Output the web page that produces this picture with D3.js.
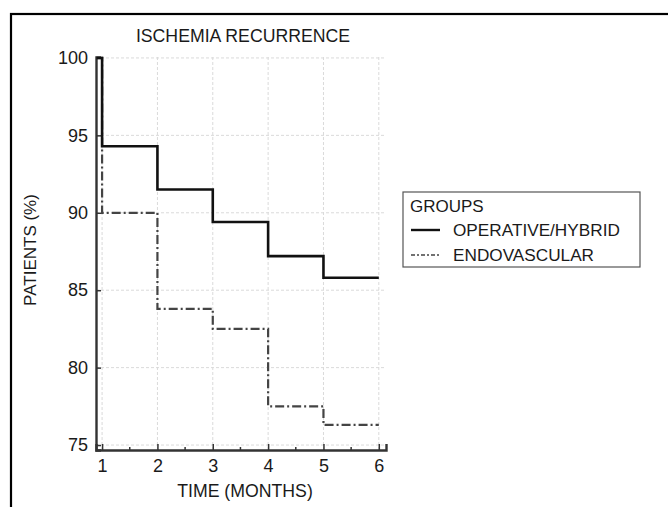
<!DOCTYPE html>
<html>
<head>
<meta charset="utf-8">
<script src="https://cdn.jsdelivr.net/npm/d3@7"></script>
<style>
	body{margin:0;background:#fff;}
	svg text{font-family:"Liberation Sans",Arial,sans-serif;fill:#1a1a1a;}
</style>
</head>
<body>
<svg id="chart" width="668" height="507"></svg>
<script>
// datos
var months = [0.9, 1, 2, 3, 4, 5, 6];
var operative = [100, 94.3, 91.5, 89.4, 87.2, 85.8, 85.8];
var endovascular = [100, 90.0, 83.8, 82.5, 77.5, 76.3, 76.3];
var xTicks = [1, 2, 3, 4, 5, 6];
var xMinor = [1.5, 2.5, 3.5, 4.5, 5.5];
var yTicks = [75, 80, 85, 90, 95, 100];
var groups = ["OPERATIVE/HYBRID", "ENDOVASCULAR"];

function escala(dom,rango){
	return d3.scaleLinear()
				.domain(dom)
				.range(rango)
}

var svg = d3.select("#chart");

// marco exterior
svg.append("rect")
	.attr("x",11).attr("y",14)
	.attr("width",700).attr("height",520)
	.attr("fill","none").attr("stroke","#000").attr("stroke-width",2.2);

var sc_x = escala([0.89,6.13],[96,386]);
var sc_y = escala([74.68,100.06],[450,57]);

// rejilla
var grid = svg.append("g").attr("class","grid");
grid.selectAll(".gx")
	.data(xTicks)
	.enter().append("line")
	.attr("x1",function(d){return sc_x(d)}).attr("x2",function(d){return sc_x(d)})
	.attr("y1",sc_y.range()[0]).attr("y2",sc_y.range()[1])
	.attr("stroke","#dadada").attr("stroke-dasharray","3,2");
grid.selectAll(".gy")
	.data(yTicks)
	.enter().append("line")
	.attr("x1",sc_x.range()[0]).attr("x2",sc_x.range()[1])
	.attr("y1",function(d){return sc_y(d)}).attr("y2",function(d){return sc_y(d)})
	.attr("stroke","#dadada").attr("stroke-dasharray","3,2");

// ejes
var ax_x = svg.append("g")
	.attr("transform","translate(0,"+sc_y.range()[0]+")")
	.call(d3.axisBottom(sc_x).tickValues(xTicks).tickSize(-6).tickPadding(9).tickFormat(d3.format("d")));
ax_x.append("g").selectAll("line")
	.data(xMinor)
	.enter().append("line")
	.attr("x1",function(d){return sc_x(d)}).attr("x2",function(d){return sc_x(d)})
	.attr("y1",0).attr("y2",-3)
	.attr("stroke","#333").attr("stroke-width",1.5);

var ax_y = svg.append("g")
	.attr("transform","translate("+sc_x.range()[0]+",0)")
	.call(d3.axisLeft(sc_y).tickValues(yTicks).tickSize(-5).tickPadding(8).tickFormat(d3.format("d")));

[ax_x,ax_y].forEach(function(a){
	a.select(".domain").attr("stroke","#333").attr("stroke-width",2.4);
	a.selectAll(".tick line").attr("stroke","#333").attr("stroke-width",1.5);
	a.selectAll("text").style("font-size","18px").attr("fill","#1a1a1a");
});

// curvas
function linea(serie){
	return d3.line()
		.x(function(d,i){return sc_x(months[i])})
		.y(function(d){return sc_y(d)})
		.curve(d3.curveStepAfter)(serie);
}

svg.append("path")
	.attr("d",linea(endovascular))
	.attr("fill","none").attr("stroke","#444").attr("stroke-width",2.2)
	.attr("stroke-dasharray","9,3,2,3");
svg.append("path")
	.attr("d",linea(operative))
	.attr("fill","none").attr("stroke","#111").attr("stroke-width",2.6);

// titulos
svg.append("text")
	.attr("x",(sc_x.range()[0]+sc_x.range()[1])/2+2).attr("y",42)
	.attr("text-anchor","middle").style("font-size","17.7px")
	.text("ISCHEMIA RECURRENCE");
svg.append("text")
	.attr("x",(sc_x.range()[0]+sc_x.range()[1])/2+4).attr("y",497)
	.attr("text-anchor","middle").style("font-size","17.7px")
	.text("TIME (MONTHS)");
svg.append("text")
	.attr("transform","translate(36,250) rotate(-90)")
	.attr("text-anchor","middle").style("font-size","17px")
	.text("PATIENTS (%)");

// leyenda
var leg = svg.append("g").attr("transform","translate(403,192)");
leg.append("rect")
	.attr("width",237).attr("height",75)
	.attr("fill","#fff").attr("stroke","#555").attr("stroke-width",1.2);
leg.append("text").attr("x",7).attr("y",20).style("font-size","17px").text("GROUPS");
var items = leg.selectAll(".item")
	.data(groups)
	.enter().append("g")
	.attr("class","item")
	.attr("transform",function(d,i){return "translate(0,"+(38+i*25)+")"});
items.append("line")
	.attr("x1",8).attr("x2",37).attr("y1",0).attr("y2",0)
	.attr("stroke",function(d,i){return i==0 ? "#111" : "#444"})
	.attr("stroke-width",function(d,i){return i==0 ? 2.4 : 1.6})
	.attr("stroke-dasharray",function(d,i){return i==0 ? null : "4,2,2,2"});
items.append("text")
	.attr("x",50).attr("y",6).style("font-size","17.2px")
	.text(function(d){return d});
</script>
</body>
</html>
